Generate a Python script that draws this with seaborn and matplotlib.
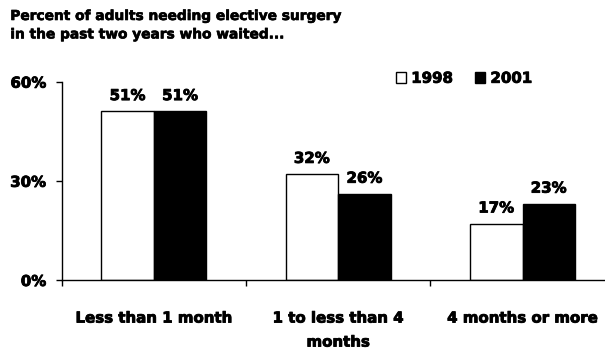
import pandas as pd
import matplotlib
matplotlib.use("Agg")
import matplotlib.pyplot as plt
import matplotlib.patheffects as pe
import seaborn as sns

categories = ["Less than 1 month", "1 to less than 4\nmonths", "4 months or more"]
years = ["1998", "2001"]
values_1998 = [51, 32, 17]
values_2001 = [51, 26, 23]

df = pd.DataFrame({
    "category": categories * 2,
    "year": [years[0]] * 3 + [years[1]] * 3,
    "pct": values_1998 + values_2001,
})

sns.set_style("white")
plt.rcParams["font.family"] = ["DejaVu Sans"]
plt.rcParams["font.weight"] = "bold"
plt.rcParams["text.color"] = "black"
plt.rcParams["xtick.color"] = "black"
plt.rcParams["ytick.color"] = "black"

# a thin stroke makes the bold face look closer to Arial Black
heavy = [pe.withStroke(linewidth=0.6, foreground="black")]
fs = 10.8

fig = plt.figure(figsize=(6.05, 3.51), dpi=100)
ax = fig.add_axes([0.102, 0.2023, 0.914, 0.565])

sns.barplot(data=df, x="category", y="pct", hue="year", order=categories,
            hue_order=years, palette=["white", "black"], width=0.57,
            edgecolor="black", linewidth=1, saturation=1, ax=ax)

for cont in ax.containers:
    ax.bar_label(cont, labels=[f"{v:.0f}%" for v in cont.datavalues],
                 padding=6, fontsize=fs, fontweight="bold", path_effects=heavy)

ax.set_xlim(-0.5, 2.5)
ax.set_ylim(0, 60)
ax.set_yticks([0, 30, 60])
ax.set_yticklabels(["0%", "30%", "60%"], fontsize=fs, fontweight="bold", path_effects=heavy)
ax.tick_params(axis="y", direction="out", length=4, width=1, pad=7, left=True)

# category boundaries get the tick marks, labels sit between them
ax.set_xticks([-0.5, 0.5, 1.5])
ax.set_xticklabels([])
ax.set_xticks([0, 1, 2], minor=True)
ax.set_xticklabels(categories, minor=True, fontsize=fs, fontweight="bold",
                   linespacing=1.75, va="top", path_effects=heavy)
ax.tick_params(axis="x", which="major", direction="out", length=4, width=1, bottom=True)
ax.tick_params(axis="x", which="minor", length=0, pad=22)
ax.set_xlabel("")
ax.set_ylabel("")

for s in ["top", "right"]:
    ax.spines[s].set_visible(False)
for s in ["left", "bottom"]:
    ax.spines[s].set_color("black")
    ax.spines[s].set_linewidth(1)

leg = ax.legend(loc="center left", bbox_to_anchor=(0.645, 0.777), bbox_transform=fig.transFigure,
                ncol=2, frameon=False, handlelength=0.65, handleheight=0.65,
                handletextpad=0.35, columnspacing=1.5, borderaxespad=0,
                prop={"weight": "bold", "size": fs})
for t in leg.get_texts():
    t.set_path_effects(heavy)

fig.text(0.017, 1 - 9 / 351, "Percent of adults needing elective surgery\nin the past two years who waited...",
         ha="left", va="top", fontsize=9.9, fontweight="bold", linespacing=1.4,
         path_effects=[pe.withStroke(linewidth=0.45, foreground="black")])

fig.savefig("out.png", dpi=100)
